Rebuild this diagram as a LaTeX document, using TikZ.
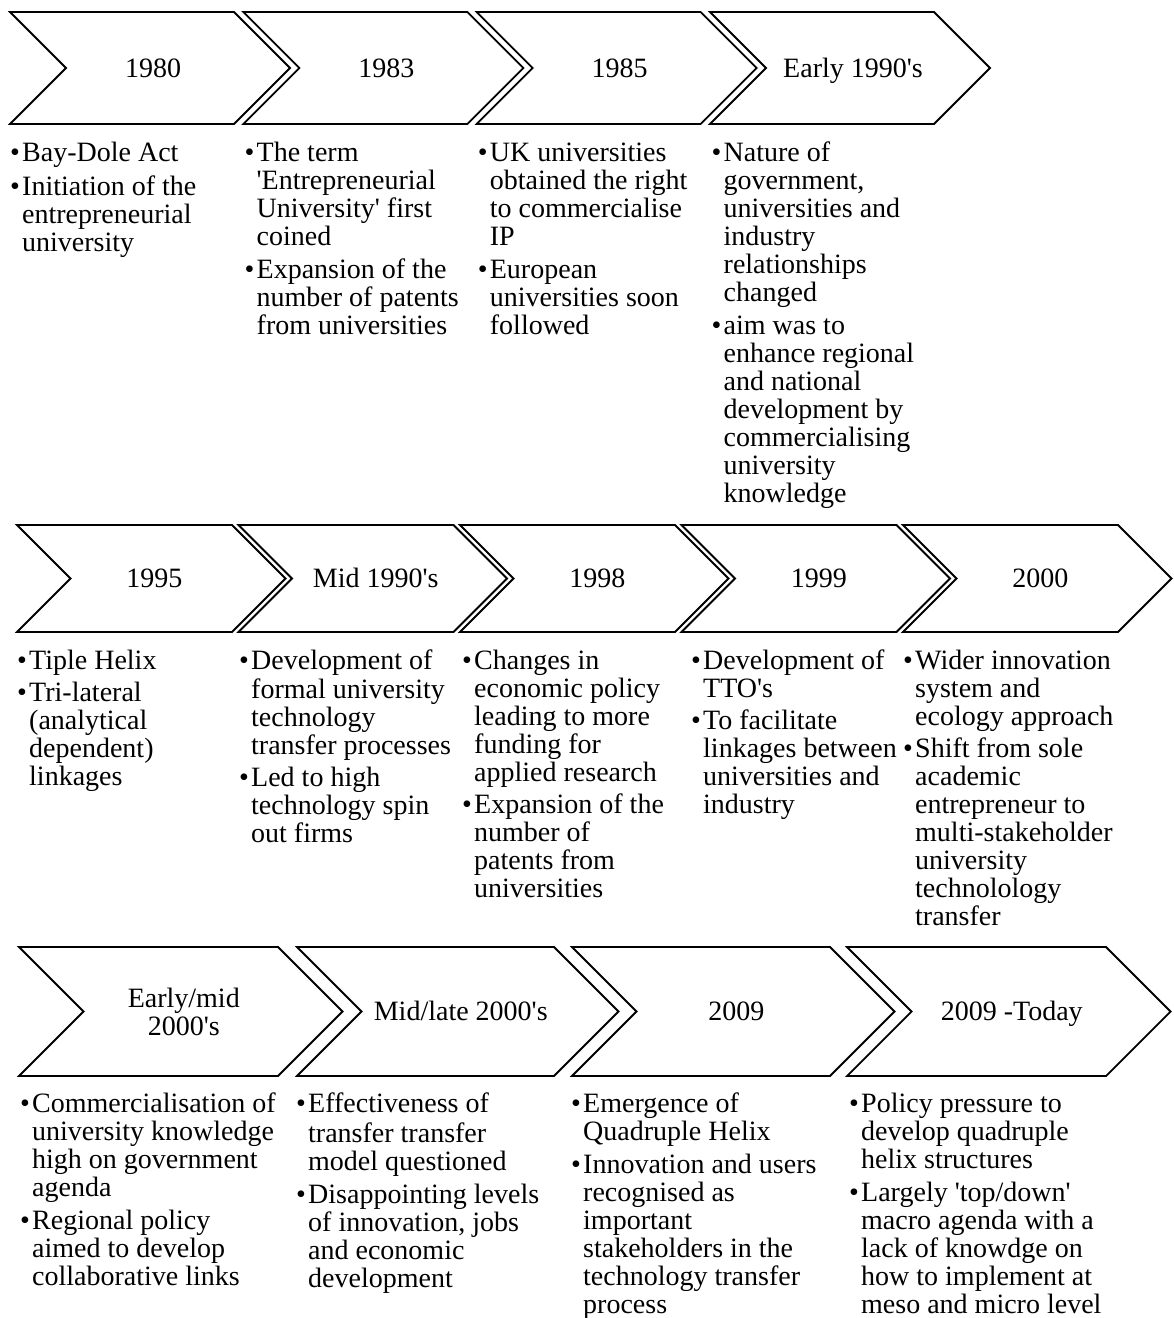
\documentclass[tikz,border=0pt]{standalone}
\usepackage{fontspec}
% plain family: no TeX ligature mapping, so ' stays a straight apostrophe
\newfontfamily\tnr{Liberation Serif}
\newlength\bw \setlength\bw{12pt}
\newcommand\bul{\makebox[\bw][l]{\textbullet}}
\newcommand\ind{\hspace*{\bw}}

% [#1 label style] #2 name, #3 left x, #4 top y, #5 bottom y, #6 length of top edge, #7 label
\newcommand\chevstep[7][oneline]{%
  \pgfmathsetmacro\dd{(#5-#4)/2}%
  \pgfmathsetmacro\mm{(#5+#4)/2}%
  \draw[chev] (#3,#4) -- ({#3+#6},#4) -- ({#3+#6+\dd},\mm) -- ({#3+#6},#5)
     -- (#3,#5) -- ({#3+\dd},\mm) -- cycle;
  \node[yearlbl,#1] (#2) at ({#3+(#6+\dd)/2+3},\mm) {#7};
}

\begin{document}
\begin{tikzpicture}[x=1pt,y=-1pt,
  chev/.style={draw=black, line width=1.8pt, line join=miter},
  yearlbl/.style={font=\tnr\fontsize{28}{28}\selectfont, align=center, inner sep=0pt},
  oneline/.style={text height=18.6pt, text depth=0pt},
  twolines/.style={text depth=0pt},
  notes/.style={font=\tnr\fontsize{28}{28}\selectfont, align=left, anchor=north west, inner sep=0pt}]

\fill[white] (0,0) rectangle (1174,1318);
\useasboundingbox (0,0) rectangle (1174,1318);

% ---------- first row ----------
\chevstep{y1980}{10}{12}{124}{224}{1980}
\chevstep{y1983}{243.3}{12}{124}{224}{1983}
\chevstep{y1985}{476.7}{12}{124}{224}{1985}
\chevstep{y1990e}{710}{12}{124}{224}{Early 1990's}

\node[notes] (n1980) at (10,141.5) {\strut\bul Bay-Dole Act\\[5pt]
\bul Initiation of the\\ \ind entrepreneurial\\ \ind university};
\node[notes] (n1983) at (244.5,141.5) {\strut\bul The term\\ \ind 'Entrepreneurial\\ \ind University' first\\ \ind coined\\[5pt]
\bul Expansion of the\\ \ind number of patents\\ \ind from universities};
\node[notes] (n1985) at (477.7,141.5) {\strut\bul UK universities\\ \ind obtained the right\\ \ind to commercialise\\ \ind IP\\[5pt]
\bul European\\ \ind universities soon\\ \ind followed};
\node[notes] (n1990e) at (711.5,141.5) {\strut\bul Nature of\\ \ind government,\\ \ind universities and\\ \ind industry\\ \ind relationships\\ \ind changed\\[5pt]
\bul aim was to\\ \ind enhance regional\\ \ind and national\\ \ind development by\\ \ind commercialising\\ \ind university\\ \ind knowledge};

% ---------- second row ----------
\chevstep{y1995}{17}{525}{632}{215}{1995}
\chevstep{y1990m}{238.5}{525}{632}{215}{Mid 1990's}
\chevstep{y1998}{460}{525}{632}{215}{1998}
\chevstep{y1999}{681.5}{525}{632}{215}{1999}
\chevstep{y2000}{903}{525}{632}{215}{2000}

\node[notes] (n1995) at (17,649.5) {\strut\bul Tiple Helix\\[4pt]
\bul Tri-lateral\\ \ind (analytical\\ \ind dependent)\\ \ind linkages};
\node[notes] (n1990m) at (239,649.5) {\strut\bul Development of\\ \ind formal university\\ \ind technology\\ \ind transfer processes\\[4pt]
\bul Led to high\\ \ind technology spin\\ \ind out firms};
\node[notes] (n1998) at (462,649.5) {\strut\bul Changes in\\ \ind economic policy\\ \ind leading to more\\ \ind funding for\\ \ind applied research\\[4pt]
\bul Expansion of the\\ \ind number of\\ \ind patents from\\ \ind universities};
\node[notes] (n1999) at (691,649.5) {\strut\bul Development of\\ \ind TTO's\\[4pt]
\bul To facilitate\\ \ind linkages between\\ \ind universities and\\ \ind industry};
\node[notes] (n2000) at (903,649.5) {\strut\bul Wider innovation\\ \ind system and\\ \ind ecology approach\\[4pt]
\bul Shift from sole\\ \ind academic\\ \ind entrepreneur to\\ \ind multi-stakeholder\\ \ind university\\ \ind technolology\\ \ind transfer};

% ---------- third row ----------
\chevstep[twolines]{y2000e}{19}{947}{1076}{259}{Early/mid\\2000's}
\chevstep{y2000l}{297}{947}{1076}{257}{Mid/late 2000's}
\chevstep{y2009}{572}{947}{1076}{258}{2009}
\chevstep{y2009t}{847}{947}{1076}{259}{2009 -Today}

\node[notes] (n2000e) at (20,1093) {\strut\bul Commercialisation of\\ \ind university knowledge\\ \ind high on government\\ \ind agenda\\[5pt]
\bul Regional policy\\ \ind aimed to develop\\ \ind collaborative links};
\node[notes] (n2000l) at (296,1093) {\strut\bul Effectiveness of\\ \ind transfer transfer\\ \ind model questioned\\[5pt]
\bul Disappointing levels\\ \ind of innovation, jobs\\ \ind and economic\\ \ind development};
\node[notes] (n2009) at (571,1093) {\strut\bul Emergence of\\ \ind Quadruple Helix\\[5pt]
\bul Innovation and users\\ \ind recognised as\\ \ind important\\ \ind stakeholders in the\\ \ind technology transfer\\ \ind process};
\node[notes] (n2009t) at (849,1093) {\strut\bul Policy pressure to\\ \ind develop quadruple\\ \ind helix structures\\[5pt]
\bul Largely 'top/down'\\ \ind macro agenda with a\\ \ind lack of knowdge on\\ \ind how to implement at\\ \ind meso and micro level};

\end{tikzpicture}
\end{document}
